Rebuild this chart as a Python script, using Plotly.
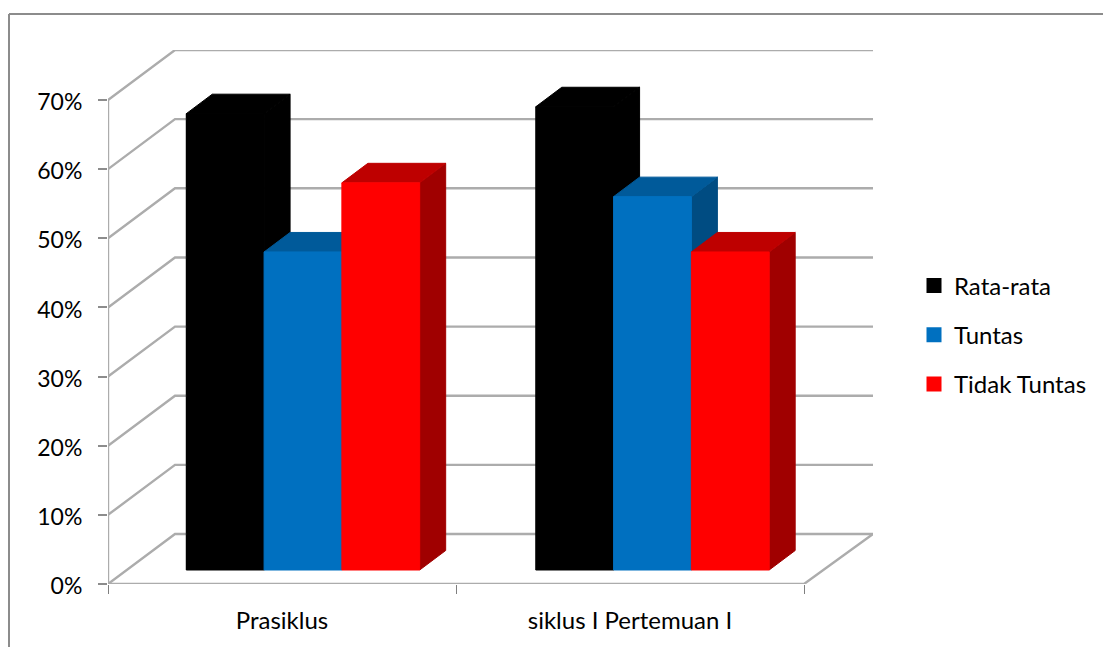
import plotly.graph_objects as go

categories = ["Prasiklus", "siklus I Pertemuan I"]
rata_rata = [66, 67]
tuntas = [46, 54]
tidak_tuntas = [56, 46]
series_names = ["Rata-rata", "Tuntas", "Tidak Tuntas"]
y_ticks = [0, 10, 20, 30, 40, 50, 60, 70]
y_labels = ["0%", "10%", "20%", "30%", "40%", "50%", "60%", "70%"]

series_values = [rata_rata, tuntas, tidak_tuntas]
front_colors = ["#000000", "#0070C0", "#FF0000"]
top_colors = ["#000000", "#005A9A", "#BE0000"]
side_colors = ["#000000", "#004C82", "#A00000"]
FONT = "Lato"
GRID = "#ACACAC"

W, H = 1103, 647
L, R, T, B = 108, 873, 50, 584
PX_X = 348.0
PX_Y = 69.14 / 10
WALL_DX, WALL_DY = 67 / PX_X, 50 / PX_Y
WALL_DX_R = 69 / PX_X
BAR_DX, BAR_DY = 26 / PX_X, 19.5 / PX_Y
BAR_BASE = 14 / PX_Y
BAR_W = 77.8 / PX_X
C0, STEP = 0.5603, 1.0043

fig = go.Figure()

# walls and floor
gx, gy = [], []
for t in y_ticks:
    gx += [0, WALL_DX, 2 + WALL_DX_R, None]
    gy += [t, t + WALL_DY, t + WALL_DY, None]
gx += [0, 0, None, 0, 2, 2 + WALL_DX_R]
gy += [0, y_ticks[-1], None, 0, 0, WALL_DY]
fig.add_trace(go.Scatter(x=gx, y=gy, mode="lines", line=dict(color=GRID, width=2.4),
                         showlegend=False, hoverinfo="skip", cliponaxis=False))

for j, (name, vals) in enumerate(zip(series_names, series_values)):
    xs = [C0 + i * STEP + (j - 1) * BAR_W for i in range(len(vals))]
    fig.add_trace(go.Bar(x=xs, y=vals, base=BAR_BASE, width=BAR_W, name=name,
                         marker=dict(color=front_colors[j], line=dict(width=0)),
                         text=categories, hovertemplate="%{text}<br>" + name + ": %{y}%<extra></extra>",
                         textposition="none", showlegend=False))

for j, (name, vals) in enumerate(zip(series_names, series_values)):
    tx, ty, sx, sy, fx, fy = [], [], [], [], [], []
    for i, v in enumerate(vals):
        x0 = C0 + i * STEP + (j - 1) * BAR_W - BAR_W / 2
        x1 = x0 + BAR_W
        top = v + BAR_BASE
        tx += [x0, x0 + BAR_DX, x1 + BAR_DX, x1, x0, None]
        ty += [top, top + BAR_DY, top + BAR_DY, top, top, None]
        sx += [x1, x1 + BAR_DX, x1 + BAR_DX, x1, x1, None]
        sy += [top, top + BAR_DY, BAR_BASE + BAR_DY, BAR_BASE, top, None]
        fx += [x0, x1, x1, x0, x0, None]
        fy += [BAR_BASE, BAR_BASE, top, top, BAR_BASE, None]
    for px, py, col in ((sx, sy, side_colors[j]), (tx, ty, top_colors[j]), (fx, fy, front_colors[j])):
        fig.add_trace(go.Scatter(x=px, y=py, mode="lines", fill="toself", fillcolor=col,
                                 line=dict(width=1, color=col), showlegend=False,
                                 hoverinfo="skip", cliponaxis=False))

# legend keys
for j, name in enumerate(series_names):
    fig.add_trace(go.Scatter(x=[None], y=[None], mode="markers", name=name, legendgroup=name,
                             marker=dict(symbol="square", size=15, color=front_colors[j])))

pw, ph = R - L, B - T
border = dict(color="#8C8C8C", width=2)
bx, tyy = (9 - L) / pw, 1 + (T - 14) / ph
fig.add_shape(type="line", xref="paper", yref="paper", x0=bx, x1=(W - L) / pw, y0=tyy, y1=tyy, line=border, layer="below")
fig.add_shape(type="line", xref="paper", yref="paper", x0=bx, x1=bx, y0=tyy, y1=-(H - B) / ph, line=border, layer="below")

fig.update_layout(
    width=W, height=H, paper_bgcolor="white", plot_bgcolor="white",
    margin=dict(l=L, r=W - R, t=T, b=H - B, pad=0, autoexpand=False),
    barmode="overlay", bargap=0,
    font=dict(family=FONT, size=24, color="#000000"),
    hovermode="closest",
    showlegend=True,
    legend=dict(x=(914 - L) / pw, y=1 - (335 - T) / ph, xanchor="left", yanchor="middle",
                traceorder="grouped", tracegroupgap=15, itemsizing="trace",
                bgcolor="rgba(0,0,0,0)", font=dict(family=FONT, size=24)),
    xaxis=dict(range=[0, (R - L) / PX_X], tickvals=[0.5, 1.5], ticktext=categories,
               ticks="", ticklen=0, showgrid=False, zeroline=False, showline=False,
               ticklabelstandoff=20, tickfont=dict(family=FONT, size=24),
               minor=dict(tickvals=[0, 1, 2], ticks="outside", ticklen=9, tickwidth=1,
                          tickcolor="#7F7F7F", showgrid=False)),
    yaxis=dict(range=[0, (B - T) / PX_Y], tickvals=y_ticks, ticktext=y_labels,
               ticks="outside", ticklen=9, tickwidth=2, tickcolor="#8C8C8C",
               showgrid=False, zeroline=False, showline=False,
               ticklabelstandoff=11, ticklabelshift=2, tickfont=dict(family=FONT, size=23)),
)

fig.write_html("out.html", config={"displayModeBar": False},
               post_script="document.body.style.margin='0';")
